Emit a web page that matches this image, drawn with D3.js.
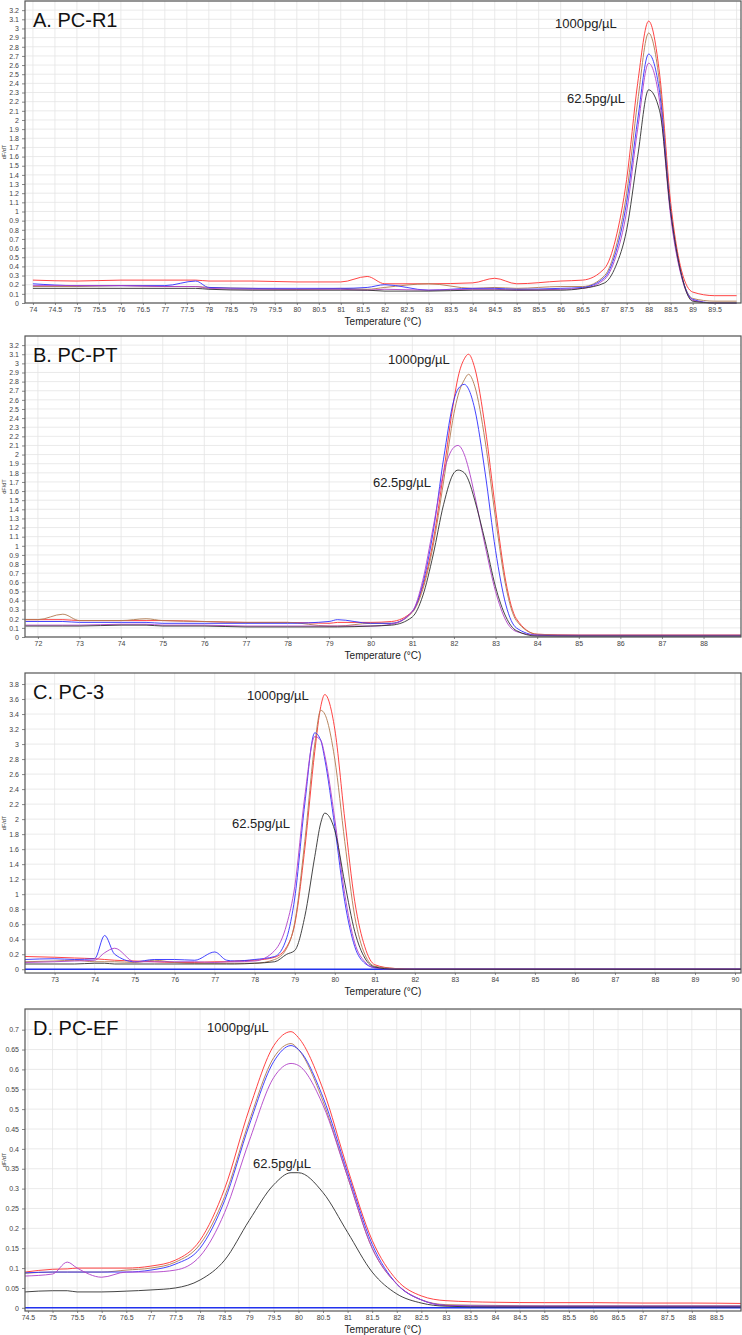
<!DOCTYPE html><html><head><meta charset="utf-8">
<script src="https://cdn.jsdelivr.net/npm/d3@7"></script>
<style>body{margin:0;background:#fff}svg{display:block;font-family:"Liberation Sans",Arial,sans-serif}</style></head><body>
<svg id="c" width="742" height="1335"></svg>
<script>
const seriesNames=["red","brown","blue","purple","black"];
const colors=["#ff3030","#b07a50","#3030ff","#b040c8","#303030"];
// Panel A
const xA=[74,75,76,77,77.7,78,79,80,81,81.6,82,83,84,84.5,85,86,86.5,87,87.25,87.5,87.75,88,88.25,88.5,88.75,89,89.5,90];
const A_red=[0.25,0.24,0.25,0.25,0.25,0.24,0.24,0.23,0.23,0.29,0.21,0.21,0.22,0.27,0.21,0.24,0.25,0.38,0.7,1.35,2.4,3.08,2.5,1.1,0.35,0.12,0.08,0.08];
const A_brown=[0.18,0.18,0.19,0.18,0.18,0.17,0.16,0.15,0.16,0.15,0.17,0.21,0.16,0.17,0.16,0.18,0.18,0.3,0.6,1.2,2.2,2.95,2.4,1.0,0.3,0.05,0.02,0.02];
const A_blue=[0.21,0.19,0.19,0.19,0.24,0.17,0.16,0.16,0.16,0.17,0.2,0.14,0.16,0.16,0.15,0.16,0.17,0.28,0.55,1.1,2.0,2.72,2.3,1.0,0.3,0.04,0.0,0.0];
const A_purple=[0.19,0.19,0.19,0.18,0.18,0.16,0.15,0.15,0.15,0.14,0.15,0.14,0.15,0.15,0.14,0.15,0.16,0.26,0.5,1.0,1.9,2.62,2.2,0.95,0.28,0.03,0,0];
const A_black=[0.16,0.16,0.16,0.16,0.16,0.15,0.14,0.14,0.14,0.14,0.13,0.13,0.14,0.14,0.14,0.14,0.16,0.22,0.4,0.8,1.6,2.33,2.1,1.0,0.3,0.02,0,0];
// Panel B
const xB=[71.7,72,72.6,73,74,74.6,75,76,77,78,79,79.2,80,80.5,81,81.25,81.5,81.75,82,82.1,82.25,82.35,82.5,82.75,83,83.25,83.5,84,85,86,87,88,88.9];
const B_red=[0.19,0.19,0.19,0.18,0.18,0.18,0.18,0.17,0.16,0.16,0.15,0.16,0.16,0.17,0.28,0.55,1.05,1.8,2.6,2.85,3.05,3.1,2.95,2.3,1.4,0.6,0.2,0.03,0.02,0.02,0.02,0.02,0.02];
const B_brown=[0.19,0.19,0.25,0.18,0.18,0.2,0.18,0.17,0.16,0.16,0.12,0.12,0.15,0.15,0.27,0.52,1.0,1.7,2.45,2.65,2.82,2.88,2.75,2.15,1.3,0.55,0.18,0.03,0.02,0.02,0.02,0.02,0.02];
const B_blue=[0.17,0.17,0.17,0.16,0.16,0.16,0.15,0.15,0.15,0.15,0.17,0.19,0.15,0.15,0.28,0.58,1.15,1.95,2.6,2.72,2.77,2.72,2.5,1.8,0.95,0.35,0.1,0.02,0.01,0.01,0.01,0.01,0.01];
const B_purple=[0.13,0.13,0.13,0.13,0.14,0.14,0.13,0.13,0.12,0.12,0.12,0.12,0.12,0.14,0.28,0.62,1.2,1.8,2.08,2.1,2.0,1.85,1.55,1.0,0.5,0.18,0.06,0.02,0.02,0.02,0.02,0.02,0.02];
const B_black=[0.12,0.12,0.12,0.12,0.13,0.13,0.12,0.12,0.11,0.11,0.11,0.11,0.12,0.13,0.22,0.45,0.9,1.45,1.8,1.83,1.8,1.72,1.5,1.05,0.55,0.22,0.07,0.01,0.01,0.01,0.01,0.01,0.01];
// Panel C
const xC=[72.26,73,73.5,74,74.25,74.5,75,75.5,76,76.5,77,77.3,77.5,78,78.5,78.8,79,79.25,79.5,79.65,79.75,80,80.25,80.5,80.75,81,81.5,82,84,86,88,90.15];
const C_red=[0.17,0.16,0.15,0.14,0.13,0.12,0.11,0.10,0.09,0.09,0.1,0.1,0.11,0.12,0.16,0.3,0.6,1.6,2.9,3.5,3.66,3.2,2.0,0.9,0.3,0.06,0.01,0,0,0,0,0];
const C_brown=[0.1,0.11,0.12,0.1,0.1,0.1,0.09,0.12,0.09,0.08,0.08,0.08,0.08,0.08,0.13,0.28,0.62,1.7,3.0,3.45,3.4,2.8,1.7,0.7,0.2,0.04,0.01,0,0,0,0,0];
const C_blue=[0.13,0.14,0.13,0.14,0.45,0.2,0.1,0.13,0.13,0.12,0.23,0.12,0.11,0.13,0.17,0.42,0.95,2.2,3.15,3.05,2.8,1.9,0.9,0.3,0.08,0.02,0,0,0,0,0,0];
const C_purple=[0.09,0.1,0.11,0.12,0.22,0.28,0.1,0.1,0.1,0.1,0.09,0.1,0.1,0.11,0.25,0.6,1.1,2.3,3.1,3.05,2.85,2.0,1.0,0.35,0.1,0.02,0,0,0,0,0,0];
const C_black=[0.07,0.07,0.07,0.08,0.08,0.07,0.07,0.07,0.07,0.07,0.07,0.07,0.07,0.08,0.1,0.2,0.25,0.7,1.5,1.95,2.08,1.85,1.15,0.5,0.15,0.03,0,0,0,0,0,0];
// Panel D
const xD=[74.44,75,75.3,75.5,76,76.5,77,77.5,78,78.5,79,79.5,79.85,80,80.5,81,81.5,82,82.5,83,84,85,86,87,88,89];
const D_red=[0.09,0.097,0.098,0.1,0.1,0.1,0.105,0.12,0.17,0.3,0.5,0.66,0.695,0.68,0.55,0.35,0.17,0.07,0.03,0.018,0.014,0.013,0.013,0.012,0.012,0.011];
const D_brown=[0.087,0.09,0.09,0.09,0.09,0.095,0.1,0.115,0.16,0.28,0.47,0.63,0.665,0.65,0.52,0.33,0.15,0.06,0.02,0.008,0.006,0.005,0.005,0.005,0.005,0.005];
const D_blue=[0.088,0.09,0.09,0.09,0.09,0.09,0.095,0.11,0.15,0.27,0.46,0.62,0.66,0.65,0.53,0.34,0.16,0.06,0.02,0.006,0.004,0.004,0.004,0.004,0.004,0.004];
const D_purple=[0.08,0.085,0.115,0.1,0.077,0.09,0.09,0.095,0.13,0.24,0.42,0.58,0.615,0.61,0.51,0.33,0.15,0.06,0.02,0.006,0.004,0.004,0.004,0.004,0.004,0.004];
const D_black=[0.04,0.043,0.043,0.04,0.04,0.042,0.045,0.05,0.07,0.12,0.22,0.31,0.34,0.34,0.29,0.19,0.09,0.035,0.012,0.004,0.002,0.002,0.002,0.002,0.002,0.002];
const titles=["A. PC-R1","B. PC-PT","C.  PC-3","D. PC-EF"];
const hiLabel="1000pg/µL", loLabel="62.5pg/µL";
const xTickStep=[0.5,1,1,0.5], yTickStep=[0.1,0.1,0.2,0.05];

const panels=[
 {x:xA,s:[A_red,A_brown,A_blue,A_purple,A_black],xd:[73.82,90.1],yd:[0,3.3],top:1,bot:303,hi:[555,28],lo:[567,103],zero:false},
 {x:xB,s:[B_red,B_brown,B_blue,B_purple,B_black],xd:[71.69,88.9],yd:[0,3.3],top:336,bot:637,hi:[388,364],lo:[373,487],zero:false},
 {x:xC,s:[C_red,C_brown,C_blue,C_purple,C_black],xd:[72.26,90.15],yd:[-0.05,3.947],top:673,bot:973,hi:[247,700],lo:[232,828],zero:true},
 {x:xD,s:[D_red,D_brown,D_blue,D_purple,D_black],xd:[74.44,89.0],yd:[-0.008,0.752],top:1009,bot:1311,hi:[207,1032],lo:[253,1168],zero:true}
];
const svg=d3.select("#c");
const L=25,R=741;
panels.forEach((p,i)=>{
  const x=d3.scaleLinear().domain(p.xd).range([L,R]);
  const y=d3.scaleLinear().domain(p.yd).range([p.bot,p.top]);
  const g=svg.append("g");
  const xs=xTickStep[i], ys=yTickStep[i];
  const xt=d3.range(Math.ceil(p.xd[0]/xs)*xs,p.xd[1]+1e-9,xs).map(v=>+v.toFixed(2));
  const yt=d3.range(0,p.yd[1]+1e-9,ys).map(v=>+v.toFixed(2));
  const xtl=xt.filter(v=>x(v)<R-6), ytl=yt.filter(v=>y(v)>p.top+4);
  g.selectAll(".gx").data(xt).join("line").attr("x1",d=>x(d)).attr("x2",d=>x(d)).attr("y1",p.top).attr("y2",p.bot).attr("stroke","#e4e4e4").attr("stroke-width",0.8);
  g.selectAll(".gy").data(yt).join("line").attr("x1",L).attr("x2",R).attr("y1",d=>y(d)).attr("y2",d=>y(d)).attr("stroke","#e4e4e4").attr("stroke-width",0.8);
  const fmt=v=>String(+v.toFixed(2));
  g.append("g").attr("transform",`translate(0,${p.bot})`).call(d3.axisBottom(x).tickValues(xtl).tickFormat(fmt).tickSize(2).tickPadding(2))
    .call(a=>{a.select(".domain").remove();a.selectAll("text").attr("font-size",7).attr("fill","#444");a.selectAll("line").attr("stroke","#888");});
  g.append("g").attr("transform",`translate(${L},0)`).call(d3.axisLeft(y).tickValues(ytl).tickFormat(fmt).tickSize(3))
    .call(a=>{a.select(".domain").remove();a.selectAll("text").attr("font-size",7).attr("fill","#444");a.selectAll("line").attr("stroke","#888");});
  g.append("text").attr("x",(L+R)/2).attr("y",p.bot+22).attr("text-anchor","middle").attr("font-size",10).attr("fill","#222").text("Temperature (°C)");
  g.append("text").attr("transform",`translate(6,${(p.top+p.bot)/2}) rotate(-90)`).attr("text-anchor","middle").attr("font-size",5.5).attr("fill","#444").text("dF/dT");
  if(p.zero) g.append("line").attr("x1",L).attr("x2",R).attr("y1",y(0)).attr("y2",y(0)).attr("stroke","#2233ee").attr("stroke-width",1.5);
  const line=d3.line().curve(d3.curveMonotoneX);
  p.s.forEach((vals,k)=>{
    g.append("path").attr("d",line(vals.map((v,j)=>[x(p.x[j]),y(v)]))).attr("fill","none").attr("stroke",colors[k]).attr("stroke-width",1).attr("opacity",0.9);
  });
  g.append("rect").attr("x",L).attr("y",p.top).attr("width",R-L).attr("height",p.bot-p.top).attr("fill","none").attr("stroke","#555").attr("stroke-width",1.2);
  g.append("text").attr("x",33).attr("y",p.top+26).attr("font-size",20).attr("fill","#111").text(titles[i]);
  g.append("text").attr("x",p.hi[0]).attr("y",p.hi[1]).attr("font-size",13).attr("fill","#222").text(hiLabel);
  g.append("text").attr("x",p.lo[0]).attr("y",p.lo[1]).attr("font-size",13).attr("fill","#222").text(loLabel);
});
</script></body></html>
